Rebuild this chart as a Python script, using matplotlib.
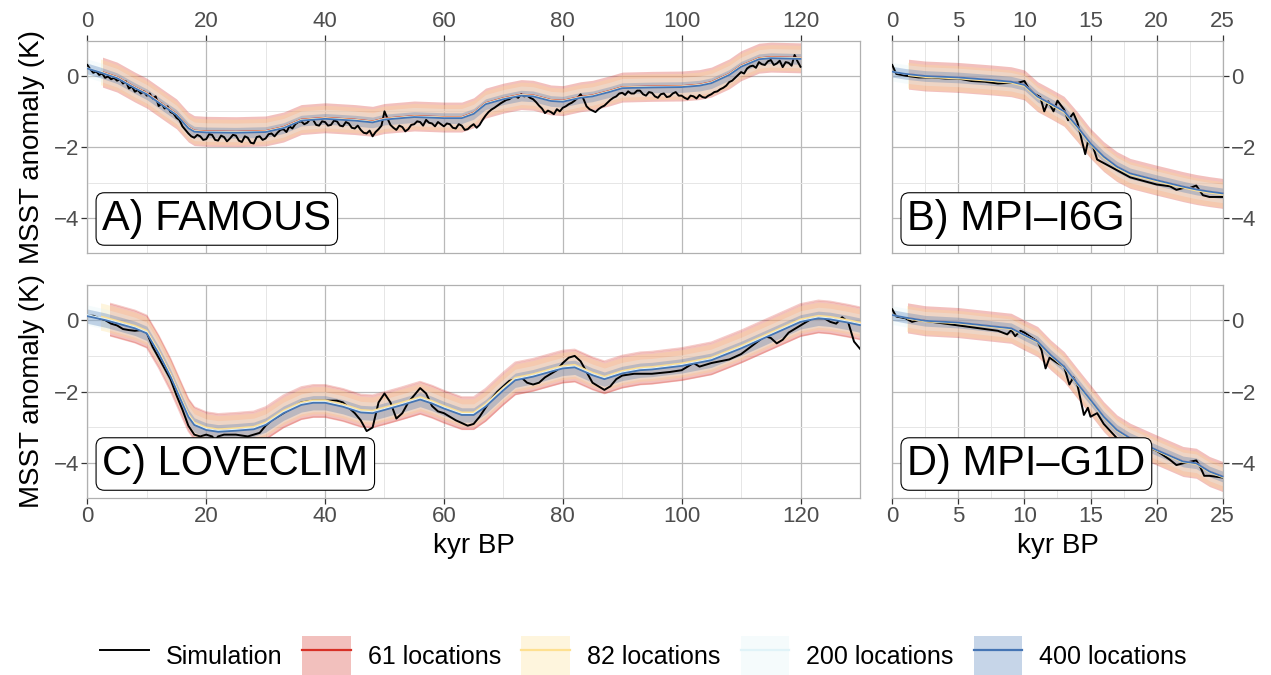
import numpy as np
import matplotlib
matplotlib.use("Agg")
import matplotlib.pyplot as plt
from matplotlib.lines import Line2D
from matplotlib.patches import Patch, Rectangle
from matplotlib.ticker import MultipleLocator

plt.rcParams['font.family'] = ['Liberation Sans', 'DejaVu Sans']

SERIES = ["61 locations", "82 locations", "200 locations", "400 locations"]
COLORS = ["#D73027", "#FEE090", "#E0F3F8", "#4575B4"]

# ---- A) FAMOUS -------------------------------------------------------------
A_mx = [0, 2, 5, 8, 10, 13, 15, 17, 18, 20, 25, 30, 33, 36, 40, 45, 48, 50, 55, 60,
        63, 65, 67, 70, 73, 75, 78, 80, 83, 85, 88, 90, 95, 100, 103, 105, 108, 110,
        113, 115, 120]
A_my = [0.2, 0.1, -0.07, -0.35, -0.52, -0.87, -1.1, -1.47, -1.57, -1.59, -1.6, -1.58,
        -1.47, -1.26, -1.21, -1.26, -1.31, -1.23, -1.16, -1.19, -1.19, -1.07, -0.8,
        -0.66, -0.56, -0.58, -0.71, -0.73, -0.62, -0.58, -0.45, -0.35, -0.33, -0.32,
        -0.28, -0.21, 0.02, 0.25, 0.46, 0.49, 0.47]
# simulation, every 0.5 kyr from 0 to 120
A_sx = np.arange(0, 120.5, 0.5)
A_sy = [0.30, 0.18, 0.08, 0.12, 0.02, 0.06, -0.06, -0.02, -0.10, -0.06,
        -0.14, -0.10, -0.22, -0.16, -0.36, -0.30, -0.45, -0.40, -0.50, -0.44,
        -0.56, -0.50, -0.64, -0.58, -0.85, -0.78, -0.92, -0.86, -1.02, -1.06,
        -1.18, -1.24, -1.42, -1.52, -1.62, -1.70, -1.74, -1.66, -1.70, -1.80,
        -1.78, -1.64, -1.66, -1.80, -1.82, -1.68, -1.72, -1.84, -1.76, -1.66,
        -1.68, -1.82, -1.86, -1.70, -1.74, -1.88, -1.90, -1.72, -1.70, -1.80,
        -1.76, -1.64, -1.62, -1.70, -1.60, -1.52, -1.50, -1.58, -1.42, -1.48,
        -1.36, -1.30, -1.28, -1.36, -1.32, -1.22, -1.24, -1.38, -1.40, -1.28,
        -1.30, -1.40, -1.38, -1.26, -1.28, -1.40, -1.42, -1.30, -1.34, -1.46,
        -1.48, -1.40, -1.52, -1.60, -1.62, -1.54, -1.70, -1.58, -1.50, -1.40,
        -1.00, -1.20, -1.38, -1.46, -1.52, -1.40, -1.44, -1.56, -1.50, -1.38,
        -1.36, -1.28, -1.30, -1.40, -1.24, -1.32, -1.34, -1.42, -1.30, -1.36,
        -1.42, -1.34, -1.36, -1.46, -1.48, -1.36, -1.40, -1.52, -1.50, -1.42,
        -1.36, -1.46, -1.38, -1.24, -1.12, -1.02, -0.95, -0.90, -0.84, -0.78,
        -0.73, -0.68, -0.66, -0.60, -0.58, -0.62, -0.52, -0.58, -0.56, -0.62,
        -0.66, -0.74, -0.84, -0.92, -1.05, -0.98, -1.02, -1.08, -0.94, -1.00,
        -0.90, -0.86, -0.80, -0.76, -0.70, -0.62, -0.52, -0.66, -0.86, -0.94,
        -0.98, -1.02, -0.94, -0.88, -0.84, -0.76, -0.68, -0.62, -0.58, -0.50,
        -0.48, -0.54, -0.44, -0.50, -0.50, -0.42, -0.42, -0.52, -0.56, -0.46,
        -0.48, -0.58, -0.62, -0.52, -0.50, -0.60, -0.58, -0.50, -0.46, -0.56,
        -0.56, -0.62, -0.66, -0.56, -0.58, -0.64, -0.54, -0.60, -0.62, -0.56,
        -0.52, -0.46, -0.44, -0.38, -0.34, -0.28, -0.18, -0.14, -0.06, 0.02,
        0.10, 0.06, 0.20, 0.26, 0.28, 0.22, 0.38, 0.32, 0.30, 0.40,
        0.44, 0.30, 0.34, 0.42, 0.24, 0.38, 0.36, 0.28, 0.58, 0.40,
        0.25]
A_halfw = [0.42, 0.36, 0.26, 0.15]
A_offset = [0.03, 0.02, 0.01, 0.0]
A_start = [2.7, 2.3, 0, 0]

# ---- B) MPI-I6G ------------------------------------------------------------
B_mx = [0, 1, 2.5, 5, 7.5, 9, 10, 11, 12, 13, 14, 15, 16, 17, 18, 20, 22, 23, 24, 25]
B_my = [0.11, 0.05, -0.01, -0.05, -0.12, -0.17, -0.26, -0.59, -0.79, -1.0, -1.43,
        -1.9, -2.27, -2.55, -2.74, -2.93, -3.11, -3.19, -3.25, -3.3]
B_sx = [0, 0.3, 1, 2, 3, 4, 5, 6, 7, 8, 9, 9.5, 10, 10.3, 10.7, 11.2, 11.5, 11.8,
        12.2, 12.5, 13, 13.3, 13.7, 14, 14.3, 14.6, 14.8, 15.2, 15.5, 16, 17, 18, 19,
        20, 21, 21.5, 22, 22.5, 23, 23.5, 24, 25]
B_sy = [0.3, 0.05, 0.0, -0.05, -0.05, -0.08, -0.08, -0.15, -0.17, -0.22, -0.2, -0.2,
        -0.15, -0.35, -0.5, -0.6, -1.0, -0.72, -1.0, -0.7, -0.95, -1.25, -1.05, -1.3,
        -1.75, -2.2, -1.85, -2.0, -2.35, -2.45, -2.65, -2.85, -2.95, -3.05, -3.1,
        -3.2, -3.15, -3.15, -3.08, -3.35, -3.4, -3.4]
B_halfw = [0.42, 0.36, 0.26, 0.15]
B_offset = [0.0, -0.03, 0.0, 0.0]
B_start = [1.3, 1.2, 0, 0]

# ---- C) LOVECLIM -----------------------------------------------------------
C_mx = [0, 3, 5, 8, 10, 12, 14, 16, 17, 18, 20, 22, 25, 28, 30, 33, 36, 38, 40, 43,
        46, 48, 50, 53, 56, 58, 60, 63, 65, 67, 70, 72, 75, 78, 80, 82, 85, 87, 90,
        93, 95, 100, 105, 110, 115, 120, 123, 125, 128, 130]
C_my = [0.11, 0.0, -0.09, -0.23, -0.37, -0.93, -1.58, -2.33, -2.7, -2.93, -3.07,
        -3.12, -3.09, -3.05, -2.93, -2.6, -2.37, -2.31, -2.31, -2.42, -2.58, -2.6,
        -2.51, -2.37, -2.22, -2.33, -2.47, -2.65, -2.65, -2.42, -1.96, -1.68, -1.58,
        -1.44, -1.35, -1.32, -1.54, -1.65, -1.49, -1.4, -1.38, -1.28, -1.12, -0.79,
        -0.42, -0.05, 0.05, 0.02, -0.07, -0.14]
C_sx = [0, 1, 2, 3, 4, 5, 6, 7, 8, 9, 10, 11, 12, 13, 14, 15, 16, 17, 18, 19, 20, 21,
        21.5, 22, 23, 25, 27, 28, 29, 30, 31, 33, 35, 36, 38, 40, 42, 43, 44, 45, 46,
        47, 48, 49, 50, 51, 52, 53, 54, 55, 56, 57, 58, 59, 60, 62, 64, 65, 66, 67,
        68, 69, 70, 71, 72, 73, 74, 75, 76, 77, 78, 79, 80, 81, 82, 83, 84, 85, 86,
        87, 88, 89, 90, 92, 95, 98, 100, 102, 103, 105, 108, 110, 112, 114, 115, 116,
        117, 118, 120, 122, 124, 125, 126, 127, 128, 129, 130]
C_sy = [0.12, 0.12, 0.05, 0.0, -0.1, -0.15, -0.25, -0.28, -0.3, -0.28,
        -0.35, -0.75, -1.05, -1.35, -1.65, -2.1, -2.5, -2.95, -3.2, -3.25,
        -3.2, -3.25, -3.35, -3.25, -3.2, -3.2, -3.25, -3.2, -3.15, -2.95,
        -2.8, -2.6, -2.4, -2.3, -2.25, -2.25, -2.25, -2.3, -2.45, -2.6,
        -2.8, -3.1, -3.0, -2.3, -2.05, -2.3, -2.75, -2.6, -2.3, -2.1,
        -1.9, -2.05, -2.4, -2.55, -2.6, -2.8, -2.95, -2.9, -2.7, -2.45,
        -2.2, -2.0, -1.85, -1.7, -1.65, -1.6, -1.75, -1.8, -1.75, -1.6,
        -1.5, -1.4, -1.2, -1.05, -1.0, -1.15, -1.45, -1.75, -1.85, -1.95,
        -1.85, -1.65, -1.55, -1.5, -1.5, -1.45, -1.4, -1.2, -1.3, -1.2,
        -1.1, -0.95, -0.7, -0.45, -0.5, -0.65, -0.55, -0.35, -0.15, 0.05,
        0.05, -0.05, -0.1, 0.08, -0.05, -0.6, -0.8]
C_halfw = [0.45, 0.38, 0.28, 0.2]
C_offset = [0.05, 0.07, 0.03, 0.0]
C_start = [3.8, 2.3, 0, 0]

# ---- D) MPI-G1D ------------------------------------------------------------
D_mx = [0, 1, 2.5, 5, 7.5, 9, 10, 11, 12, 13, 14, 15, 16, 17, 18, 20, 22, 23, 24, 25]
D_my = [0.14, 0.07, -0.02, -0.07, -0.17, -0.23, -0.42, -0.6, -0.98, -1.3, -1.77,
        -2.23, -2.7, -3.07, -3.3, -3.63, -3.95, -4.0, -4.23, -4.37]
D_sx = [0, 0.3, 1, 1.5, 2, 3, 4, 5, 6, 7, 8, 8.7, 9, 9.3, 9.7, 10, 11, 11.3, 11.6,
        11.9, 12.5, 13, 13.4, 13.7, 14, 14.5, 14.8, 15, 15.5, 16, 17, 17.5, 18, 18.5,
        19, 20, 21, 21.5, 22, 23, 23.3, 23.6, 24, 25]
D_sy = [0.3, 0.1, 0.05, -0.05, 0.0, -0.05, -0.1, -0.15, -0.2, -0.25, -0.3, -0.4,
        -0.28, -0.45, -0.3, -0.35, -0.6, -0.85, -1.35, -1.05, -1.2, -1.3, -1.8, -1.6,
        -1.8, -2.65, -2.45, -2.7, -2.6, -2.9, -3.3, -3.4, -3.42, -3.45, -3.5, -3.65,
        -3.9, -4.05, -4.0, -3.92, -4.1, -4.35, -4.35, -4.4]
D_halfw = [0.42, 0.36, 0.26, 0.15]
D_offset = [0.0, -0.02, 0.0, 0.0]
D_start = [1.2, 1.1, 0, 0]

YLIM = (-4.97, 0.98)
GRID_MAJOR = "#b9b9b9"
GRID_MINOR = "#e6e6e6"


def draw_panel(ax, mx, my, sx, sy, halfw, offset, start, xmax, xmajor, label,
               top=False, right=False, outline=False):
    ax.set_axisbelow(True)
    means = [np.array(my) + off for off in offset]
    for i in range(4):
        poly = ax.fill_between(mx, means[i] - halfw[i], means[i] + halfw[i],
                               color=COLORS[i], alpha=0.3, lw=0, zorder=2)
        poly.set_clip_path(Rectangle((start[i], -10), 300, 20, transform=ax.transData))
        if outline and i == 0:
            for sgn in (-1, 1):
                edge, = ax.plot(mx, means[i] + sgn * halfw[i], color=COLORS[i],
                                alpha=0.25, lw=1.2, zorder=2)
                edge.set_clip_path(Rectangle((start[i], -10), 300, 20,
                                             transform=ax.transData))
    ax.plot(sx, sy, color="black", lw=1.4, zorder=3)
    for i in range(4):
        line, = ax.plot(mx, means[i], color=COLORS[i], lw=1.3, zorder=4)
        line.set_clip_path(Rectangle((start[i], -10), 300, 20, transform=ax.transData))

    ax.set_xlim(0, xmax)
    ax.set_ylim(*YLIM)
    ax.xaxis.set_major_locator(MultipleLocator(xmajor))
    ax.xaxis.set_minor_locator(MultipleLocator(xmajor / 2))
    ax.yaxis.set_major_locator(MultipleLocator(2))
    ax.yaxis.set_minor_locator(MultipleLocator(1))
    ax.grid(which="major", color=GRID_MAJOR, lw=0.9)
    ax.grid(which="minor", color=GRID_MINOR, lw=0.7)
    for s in ax.spines.values():
        s.set_color("#b0b0b0")
        s.set_linewidth(0.9)
    ax.tick_params(which="major", length=4, width=0.9, color="#333333",
                   labelcolor="#4d4d4d", labelsize=16, pad=2)
    ax.tick_params(which="minor", length=0)
    if top:
        ax.xaxis.tick_top()
    if right:
        ax.yaxis.tick_right()

    ax.annotate(label, xy=(0, 0), xycoords="axes fraction", xytext=(15, 14),
                textcoords="offset pixels", fontsize=30, ha="left", va="bottom",
                zorder=6,
                bbox=dict(boxstyle="round,pad=0.15,rounding_size=0.2", fc="white",
                          ec="black", lw=0.8))


fig = plt.figure(figsize=(12.71, 6.75), dpi=100)
axA = fig.add_axes([0.0687, 0.6252, 0.6079, 0.3145])
axB = fig.add_axes([0.7020, 0.6252, 0.2600, 0.3145])
axC = fig.add_axes([0.0687, 0.2622, 0.6079, 0.3156])
axD = fig.add_axes([0.7020, 0.2622, 0.2600, 0.3156])

draw_panel(axA, A_mx, A_my, A_sx, A_sy, A_halfw, A_offset, A_start, 130, 20,
           "A) FAMOUS", top=True)
draw_panel(axB, B_mx, B_my, B_sx, B_sy, B_halfw, B_offset, B_start, 25, 5,
           "B) MPI\u2013I6G", top=True, right=True)
draw_panel(axC, C_mx, C_my, C_sx, C_sy, C_halfw, C_offset, C_start, 130, 20,
           "C) LOVECLIM", outline=True)
draw_panel(axD, D_mx, D_my, D_sx, D_sy, D_halfw, D_offset, D_start, 25, 5,
           "D) MPI\u2013G1D", right=True)

for ax in (axA, axC):
    ax.set_ylabel("MSST anomaly (K)", fontsize=20, labelpad=6)
for ax in (axC, axD):
    ax.set_xlabel("kyr BP", fontsize=20, labelpad=4)

handles = [Line2D([], [], color="black", lw=1.4)]
for c in COLORS:
    handles.append((Patch(facecolor=c, alpha=0.3, edgecolor="none"),
                    Line2D([], [], color=c, lw=1.6)))
fig.legend(handles, ["Simulation"] + SERIES, loc="center",
           bbox_to_anchor=(0.5063, 1 - 656 / 675), ncol=5, frameon=False,
           fontsize=18, handlelength=1.95, handleheight=2.1, handletextpad=0.68,
           columnspacing=0.8)

fig.savefig("out.png", dpi=100)
